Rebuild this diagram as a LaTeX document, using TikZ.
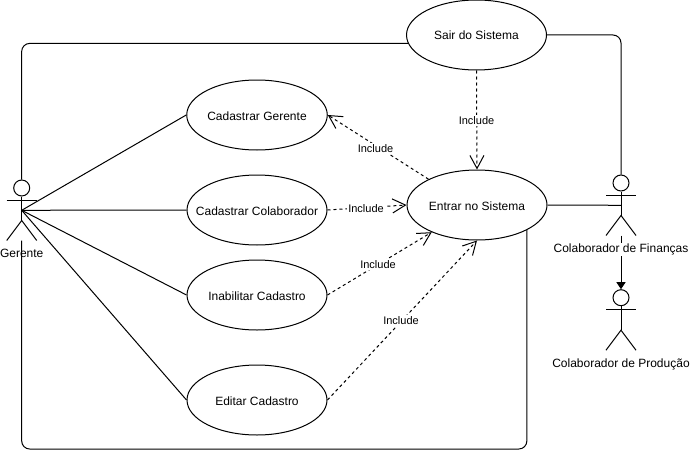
\documentclass[tikz,border=0pt]{standalone}
\usepackage{fontspec}
\setmainfont{Liberation Sans}
\usetikzlibrary{shapes.geometric,arrows.meta}

\begin{document}
\begin{tikzpicture}[x=1pt,y=-1pt,line width=1pt,
		usecase/.style={draw,ellipse,fill=white,inner sep=0pt,minimum width=140pt,minimum height=70pt,text height=10pt,text depth=0pt,font=\fontsize{12}{14}\selectfont},
		head/.style={draw,circle,inner sep=0pt,minimum size=16pt},
		actorlabel/.style={inner sep=1pt,font=\fontsize{12}{14}\selectfont},
		inclabel/.style={fill=white,inner sep=1pt,font=\fontsize{11}{13}\selectfont},
		include/.style={dash pattern=on 3pt off 3pt,-{Straight Barb[length=13pt,width=14pt]}}]
		\useasboundingbox (0,0) rectangle (690,452);
		% actors
		\foreach \name/\x/\y in {gerente/21.7/188,financas/621/183,producao/621/297.7} {
			\node [head] (\name) at (\x,\y) {};
			\coordinate (\name mid) at (\x,\y+22.3);
			\coordinate (\name hip) at (\x,\y+32.5);
			\coordinate (\name foot) at (\x,\y+52.5);
			\draw (\name.south) -- (\name hip);
			\draw (\x-15,\y+12) -- (\x+15,\y+12);
			\draw (\x-15,\y+52.5) -- (\name hip) -- (\x+15,\y+52.5);
		}
		% use cases
		\node [usecase] (sair) at (476.5,35) {Sair do Sistema};
		\node [usecase] (entrar) at (477,205) {Entrar no Sistema};
		\node [usecase] (gerentecase) at (257,115) {Cadastrar Gerente};
		\node [usecase] (colaborador) at (257,210) {\makebox[0pt]{Cadastrar Colaborador}};
		\node [usecase] (inabilitar) at (257,295) {Inabilitar Cadastro};
		\node [usecase] (editar) at (257,400) {Editar Cadastro};
		\node [actorlabel] (gerentelabel) at (21.7,253.5) {Gerente};
		% solid lines
		\draw (gerentemid) -- (gerentecase.west);
		\draw (gerentemid) -- (colaborador.west);
		\draw (gerentemid) -- (inabilitar.west);
		\draw (gerentemid) -- (editar.west);
		\draw [rounded corners=8pt] (gerente.north) |- (sair.187);
		\draw [rounded corners=8pt] (gerentefoot) -- (gerentefoot |- 0,449) -- (entrar.south east |- 0,449) -- (entrar.south east);
		\draw [rounded corners=8pt] (sair.east) -| (financas.north);
		\draw (entrar.east) -- (financasmid);
		\draw [-{Triangle[length=7pt,width=9pt]}] (financasfoot) -- (producao.north);
		% includes
		\draw [include] (sair.south) -- (entrar.north);
		\draw [include] (entrar.152) -- (gerentecase.east);
		\draw [include] (colaborador.east) -- (entrar.west);
		\draw [include] (inabilitar.east) -- (entrar.211);
		\draw [include] (editar.east) -- (entrar.south);
		\node [inclabel] (incsair) at (476.5,120.5) {Include};
		\node [inclabel] (incgerente) at (375.5,148.5) {Include};
		\node [inclabel] (inccolaborador) at (366,208.5) {Include};
		\node [inclabel] (incinabilitar) at (378,264.5) {Include};
		\node [inclabel] (inceditar) at (401,320.5) {Include};
		\node [actorlabel,fill=white] (financaslabel) at (621,249.7) {Colaborador de Finanças};
		\node [actorlabel] (producaolabel) at (621,364.3) {Colaborador de Produção};
	\end{tikzpicture}
\end{document}
